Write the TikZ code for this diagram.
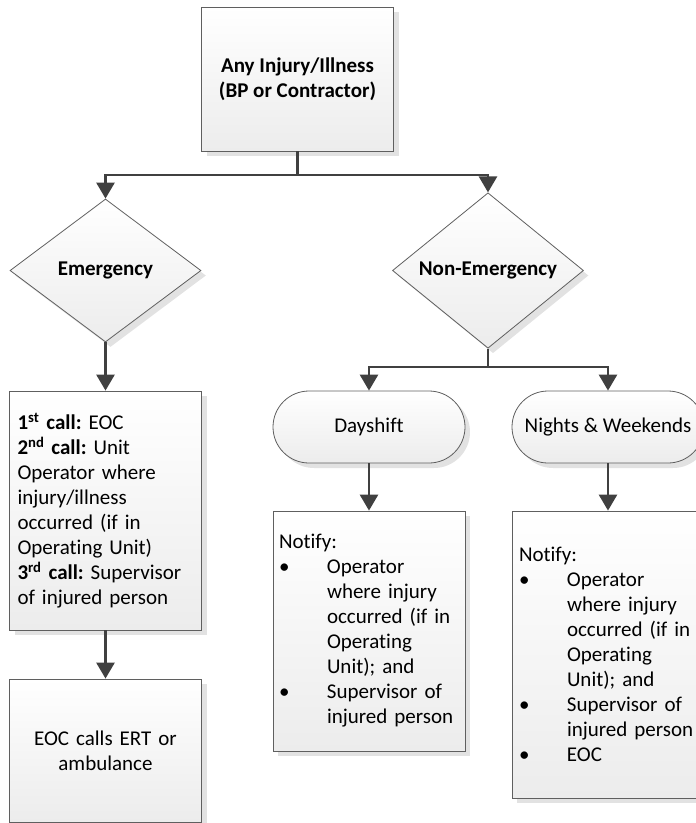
\documentclass[tikz,border=0pt]{standalone}
\usepackage{fontspec}
\setmainfont{Carlito}[Ligatures=NoCommon]
\usepackage{xcolor}
\usepackage{tikz}
\usetikzlibrary{shapes.geometric, shapes.misc, shadows, arrows.meta}

\definecolor{flowgray}{HTML}{404040}
\definecolor{edgegray}{HTML}{5F5F5F}
\definecolor{shadegray}{HTML}{ECECEC}
\definecolor{shadowgray}{HTML}{E2E2E2}

\newcommand{\notebullet}{\makebox[48pt][l]{\textbullet}}
\newcommand{\noteindent}{\hspace*{48pt}}

\begin{document}
\frenchspacing
\begin{tikzpicture}[x=1pt, y=-1pt,
  every node/.style={font=\fontsize{21}{25}\selectfont, inner sep=0pt},
  card/.style={draw=edgegray, line width=0.8pt, top color=white, bottom color=shadegray,
    drop shadow={shadow xshift=5pt, shadow yshift=-5pt, fill=shadowgray, opacity=1}},
  procbox/.style={card, rectangle, minimum width=192pt},
  decision/.style={card, diamond, minimum width=191pt, minimum height=143pt,
    font=\fontsize{21}{25}\selectfont\bfseries},
  terminal/.style={card, rounded rectangle, minimum width=192pt, minimum height=72pt},
  flow/.style={draw=flowgray, line width=2.7pt, -{Triangle[length=16pt, width=18pt]}}
]
  \useasboundingbox (0,0) rectangle (696,823);
  \clip (0,0) rectangle (696,823);

  %% start of the flow
  \node[procbox, minimum height=144pt, align=center,
    font=\fontsize{21}{25}\selectfont\bfseries] (injury) at (297.5,79)
    {Any Injury/Illness\\(BP or Contractor)};

  %% the two cases
  \node[decision] (emerg) at (105.5,270.5) {Emergency};
  \node[decision] (nonemerg) at (488,270.5) {Non-Emergency};

  %% emergency branch
  \node[procbox, minimum height=239pt, text width=176pt, align=left] (calls) at (105.5,510.5)
    {\textbf{1\textsuperscript{st} call:} EOC\\
     \textbf{2\textsuperscript{nd} call:} Unit\\
     Operator where\\
     injury/illness\\
     occurred (if in\\
     Operating Unit)\\
     \textbf{3\textsuperscript{rd} call:} Supervisor\\
     of injured person};
  \node[procbox, minimum height=143pt, text width=176pt, align=center] (ert) at (105.5,750.5)
    {EOC calls ERT or\\ambulance};

  %% non-emergency branch
  \node[terminal] (dayshift) at (369,427) {Dayshift};
  \node[terminal] (nights) at (608,427) {Nights \& Weekends};
  \node[procbox, minimum height=240pt, text width=180pt, align=left] (daynotify) at (369,631)
    {Notify:\\
     \notebullet Operator\\
     \noteindent where injury\\
     \noteindent occurred (if in\\
     \noteindent Operating\\
     \noteindent Unit); and\\
     \notebullet Supervisor of\\
     \noteindent injured person};
  \node[procbox, minimum height=287pt, text width=178pt, align=left] (nightnotify) at (608,654.5)
    {Notify:\\
     \notebullet Operator\\
     \noteindent where injury\\
     \noteindent occurred (if in\\
     \noteindent Operating\\
     \noteindent Unit); and\\
     \notebullet Supervisor of\\
     \noteindent injured person\\
     \notebullet EOC};

  %% connectors
  \coordinate (topsplit) at (297.5,175);
  \coordinate (rightsplit) at (488,367);
  \draw[flow] (injury.south) -- (topsplit) -| (emerg.north);
  \draw[flow] (topsplit) -| (nonemerg.north);
  \draw[flow] (emerg.south) -- (calls.north);
  \draw[flow] (calls.south) -- (ert.north);
  \draw[flow] (nonemerg.south) -- (rightsplit) -| (dayshift.north);
  \draw[flow] (rightsplit) -| (nights.north);
  \draw[flow] (dayshift.south) -- (daynotify.north);
  \draw[flow] (nights.south) -- (nightnotify.north);
\end{tikzpicture}
\end{document}
